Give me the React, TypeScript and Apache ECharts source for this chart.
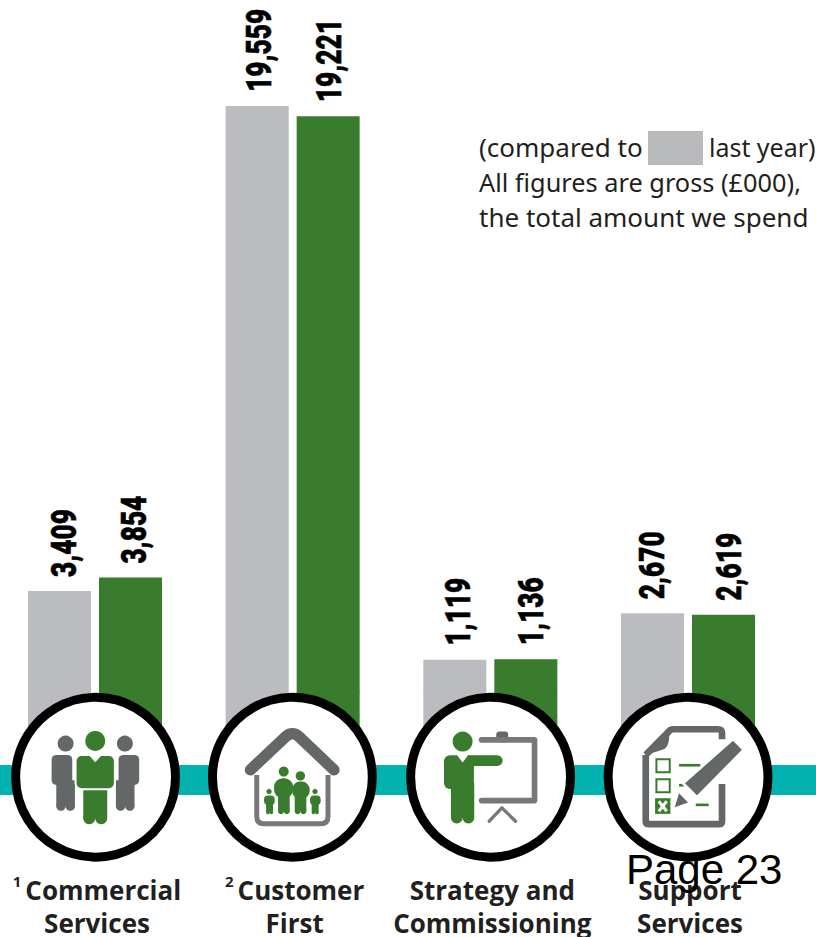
import React, { useEffect, useRef } from "react";
import * as echarts from "echarts";

const categories = ["{sup|1 }{name|Commercial}\n{name|Services}", "{sup|2 }{name|Customer}\n{name|First}", "{name|Strategy and}\n{name|Commissioning}", "{name|Support}\n{name|Services}"];
const lastYear = [3409, 19559, 1119, 2670];
const thisYear = [3854, 19221, 1136, 2619];
const noteLines = ["All figures are gross (£000),", "the total amount we spend"];

const GREY = "#BBBCBF";
const GREEN = "#3A7C2E";
const DARK = "#636768";
const MID = "#77787B";
const TEAL = "#02B2AF";
const INK = "#231F20";
const AXIS_MIN = -2000;
const BAR_W = 63;
const BAR_GAP = 8;
const LAST_NUDGE = [3, 0, 2, -2];
const THIS_NUDGE = [2, -1, 3.5, 4];

const shapes: Record<string, string> = {
  walls: "M771 285V410Q771 432 793 432H963Q985 432 985 410V285",
  doc: "M738 225L812 150Q815 148 822 148H955Q967 148 967 160V178M967 312V424Q967 433 958 433H747Q738 433 738 424V225",
  fold: "M735 225L808 146Q812 200 792 208Q770 216 735 225Z",
  pencil: "M1000 177L1032 210L892 352L850 310Z",
  tip: "M825 382L838 340L865 368Z",
  roof: "M752 270L858 170Q878 152 898 170L1003 270",
};
Object.keys(shapes).forEach((k) => echarts.graphic.registerShape(k, (echarts.graphic as any).extendPath(shapes[k], {})));

const rr = (x: number, y: number, w: number, h: number, r: number, fill: string, extra: any = {}) => ({ type: "rect", z: 5, shape: { x, y, width: w, height: h, r }, style: { fill, ...extra } });
const dot = (cx: number, cy: number, r: number, fill: string, extra: any = {}) => ({ type: "circle", z: 5, shape: { cx, cy, r }, style: { fill, ...extra } });
const line = (points: number[][], stroke: string, lineWidth: number, cap = "round") => ({ type: "polyline", z: 5, shape: { points }, style: { fill: "none", stroke, lineWidth, lineCap: cap, lineJoin: "round" } });
const custom = (type: string, style: any) => ({ type, z: 5, style });

const ring = (cx: number) => ({ type: "circle", z: 4, shape: { cx, cy: 292, r: 240 }, style: { fill: "#fff", stroke: "#000", lineWidth: 27 } });
const notch = (cx: number, top: number, half: number, depth: number) => ({ type: "polygon", z: 5, shape: { points: [[cx - half, top - 1], [cx + half, top - 1], [cx, top + depth]] }, style: { fill: "#fff" } });

const person = (cx: number, color: string, head: number[], body: number[], leg: number[], outline = false) => {
  const extra = outline ? { stroke: "#fff", lineWidth: 6 } : {};
  const [hy, hr] = head;
  const [bx, by, bw, bh, br] = body;
  const [lx, lw, lb] = leg;
  const lobe = lw / 4;
  return [
    dot(cx, hy, hr, color),
    rr(lx, by + bh - br, lw, lb - by - bh + br - lobe, 0, color),
    dot(lx + lobe, lb - lobe, lobe, color),
    dot(lx + lw - lobe, lb - lobe, lobe, color),
    rr(bx, by, bw, bh, br, color, extra),
  ];
};

const iconsLeft = [
  ring(287),
  ring(878),
  ...person(197, DARK, [191, 24], [155, 225, 62, 90, 14], [169, 56, 393]),
  ...person(375, DARK, [191, 24], [356, 225, 62, 90, 14], [348, 56, 393]),
  rr(244, 300, 84, 140, 16, "#fff"),
  ...person(286, GREEN, [183, 30], [227, 225, 118, 103, 18], [250, 72, 433], true),
  notch(286, 225, 21, 22),
  custom("walls", { fill: "none", stroke: MID, lineWidth: 15 }),
  custom("roof", { fill: "none", stroke: DARK, lineWidth: 34, lineCap: "round", lineJoin: "round" }),
  ...person(852, GREEN, [275, 15], [823, 295, 57, 60, 26], [835, 35, 403]),
  ...person(902, GREEN, [288, 14], [877, 305, 53, 52, 24], [885, 35, 403]),
  ...person(808, GREEN, [335, 8], [793, 347, 32, 28, 12], [799, 21, 403]),
  ...person(946, GREEN, [335, 8], [931, 347, 32, 28, 12], [936, 21, 403]),
];

const iconsRight = [
  ring(272),
  ring(865),
  ...person(188, GREEN, [185, 30], [132, 226, 90, 101, 18], [153, 70, 431]),
  rr(190, 226, 118, 32, 16, GREEN),
  notch(188, 226, 17, 22),
  rr(289, 155, 36, 32, 10, DARK),
  line([[245, 180], [404, 180], [404, 362], [245, 362]], MID, 17),
  line([[268, 424], [306, 384], [347, 424]], MID, 10),
  custom("doc", { fill: "none", stroke: DARK, lineWidth: 20 }),
  custom("fold", { fill: DARK }),
  rr(770, 238, 40, 39, 0, "none", { stroke: GREEN, lineWidth: 6 }),
  rr(770, 298, 40, 39, 0, "none", { stroke: GREEN, lineWidth: 6 }),
  rr(766, 355, 46, 47, 0, GREEN),
  line([[777, 364], [801, 394]], "#fff", 9, "butt"),
  line([[801, 364], [777, 394]], "#fff", 9, "butt"),
  line([[838, 256], [902, 256]], GREEN, 8, "butt"),
  line([[838, 316], [852, 316]], GREEN, 8, "butt"),
  line([[888, 375], [927, 375]], GREEN, 8, "butt"),
  custom("pencil", { fill: DARK, stroke: "#fff", lineWidth: 8 }),
  custom("tip", { fill: DARK }),
];

const noteFont = { fontFamily: "Noto Sans", fontSize: 26, fill: INK };

// Draws the value label above each bar, and the bar's foot that runs down behind the ring.
const footAndLabel = (side: number, color: string, nudge: number[]) => (params: any, api: any) => {
  const i = api.value(0);
  const v = api.value(1);
  const cx = api.coord([i, 0])[0] + (side * (BAR_W + BAR_GAP)) / 2;
  const zero = api.coord([i, 0])[1];
  const floor = api.coord([i, AXIS_MIN])[1];
  const top = api.coord([i, v])[1];
  return {
    type: "group",
    children: [
      { type: "rect", shape: { x: cx - BAR_W / 2, y: zero - 1, width: BAR_W, height: floor - zero + 1 }, style: { fill: color } },
      {
        type: "text",
        x: cx + 1.5 + nudge[i],
        y: top - 14,
        rotation: Math.PI / 2,
        scaleX: 0.75,
        style: { text: Number(v).toLocaleString("en-GB"), fontFamily: "Roboto", fontWeight: 900, fontSize: 35, fill: "#000", stroke: "#000", lineWidth: 0.6, align: "left", verticalAlign: "middle" },
      },
    ],
  };
};

export default function App() {
  const ref = useRef<HTMLDivElement>(null);
  useEffect(() => {
    const chart = echarts.init(ref.current!, undefined, { renderer: "svg" });
    chart.setOption({
      animation: false,
      backgroundColor: "#fff",
      grid: { left: -3.83, right: 29.17, top: 2.65, height: 750.75, outerBoundsMode: "none" },
      xAxis: {
        type: "category",
        data: categories,
        axisLine: { show: false, onZero: false },
        axisTick: { show: false },
        axisLabel: {
          interval: 0,
          margin: 120,
          padding: [0, 0, 0, 4],
          lineHeight: 33,
          rich: {
            name: { fontFamily: "Open Sans", fontWeight: "bold", fontSize: 26, color: INK, lineHeight: 33 },
            sup: { fontFamily: "Open Sans", fontWeight: "bold", fontSize: 15, color: INK, verticalAlign: "top", lineHeight: 30 },
          },
        },
      },
      yAxis: { type: "value", min: AXIS_MIN, max: 23000, interval: 1000, show: false },
      series: [
        { name: "Last year", type: "bar", data: lastYear, barWidth: BAR_W, barGap: `${(BAR_GAP / BAR_W) * 100}%`, itemStyle: { color: GREY } },
        { name: "This year", type: "bar", data: thisYear, barWidth: BAR_W, barGap: `${(BAR_GAP / BAR_W) * 100}%`, itemStyle: { color: GREEN } },
        { name: "Last year labels", type: "custom", data: lastYear.map((v, i) => [i, v]), encode: { x: 0, y: 1 }, renderItem: footAndLabel(-1, GREY, LAST_NUDGE) },
        { name: "This year labels", type: "custom", data: thisYear.map((v, i) => [i, v]), encode: { x: 0, y: 1 }, renderItem: footAndLabel(1, GREEN, THIS_NUDGE) },
      ],
      graphic: [
        { type: "rect", z: 3, shape: { x: 0, y: 765, width: 816, height: 30 }, style: { fill: TEAL } },
        { type: "group", x: 0, y: 680, scaleX: 1 / 3, scaleY: 1 / 3, z: 4, children: iconsLeft },
        { type: "group", x: 400, y: 680, scaleX: 1 / 3, scaleY: 1 / 3, z: 4, children: iconsRight },
        { type: "rect", z: 3, shape: { x: 648, y: 131, width: 55, height: 34 }, style: { fill: "#B9BABB" } },
        { type: "text", z: 6, x: 479, y: 147, style: { ...noteFont, text: "(compared to", verticalAlign: "middle" } },
        { type: "text", z: 6, x: 709, y: 147, scaleX: 0.96, style: { ...noteFont, text: "last year)", verticalAlign: "middle" } },
        { type: "text", z: 6, x: 479, y: 182, scaleX: 0.975, style: { ...noteFont, text: noteLines[0], verticalAlign: "middle" } },
        { type: "text", z: 6, x: 479, y: 217, style: { ...noteFont, text: noteLines[1], verticalAlign: "middle" } },
        { type: "text", z: 7, x: 626, y: 869, style: { text: "Page 23", fontFamily: "Liberation Sans", fontSize: 42, fill: "#000", verticalAlign: "middle" } },
      ],
    });
    return () => chart.dispose();
  }, []);
  return <div ref={ref} style={{ width: 816, height: 937, position: "absolute", left: 0, top: 0 }} />;
}
